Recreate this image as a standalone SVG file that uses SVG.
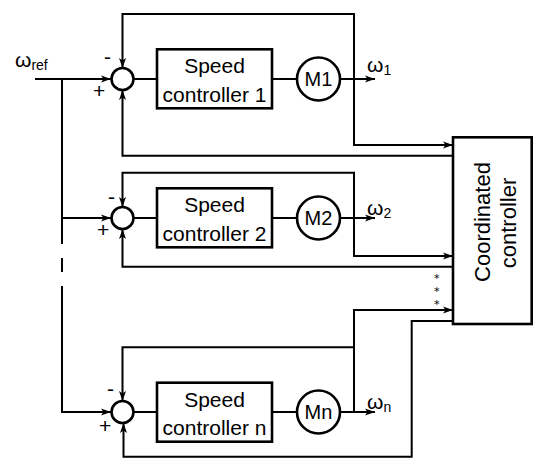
<svg xmlns="http://www.w3.org/2000/svg" width="550" height="472" viewBox="0 0 550 472">
<style>
text{font-family:"Liberation Sans",Arial,sans-serif;fill:#000}
.l{fill:none;stroke:#000;stroke-width:2}
.blk{fill:#fff;stroke:#000;stroke-width:2.6}
.t{font-size:21px;text-anchor:middle}
.m{font-size:20px;text-anchor:middle}
.s{font-size:21px}
.w{font-size:21px}
.sub{font-size:14px}
.c{font-size:22px;text-anchor:middle}
.st{font-family:"DejaVu Sans",sans-serif;font-size:11px;text-anchor:middle}
</style>
<defs>
<marker id="a" markerUnits="userSpaceOnUse" markerWidth="11" markerHeight="8" refX="10" refY="4" orient="auto">
<path d="M0,0.5 L10,4 L0,7.5 L2.5,4 z" fill="#000"/>
</marker>
</defs>
<g id="connectors">
<path class="l" d="M35,79 H111" marker-end="url(#a)"/>
<path class="l" d="M62,79 V244 M62,258 V272"/>
<path class="l" d="M62,286 V412 H111" marker-end="url(#a)"/>
<path class="l" d="M62,218 H111" marker-end="url(#a)"/>
<path class="l" d="M133.5,79 H157 M272,79 H297"/>
<path class="l" d="M340,79 H375" marker-end="url(#a)"/>
<path class="l" d="M354,79 V14 H122.5 V68" marker-end="url(#a)"/>
<path class="l" d="M354,79 V145 H453" marker-end="url(#a)"/>
<path class="l" d="M453,155.7 H122.5 V90" marker-end="url(#a)"/>
<path class="l" d="M133.5,218 H157 M272,218 H297"/>
<path class="l" d="M340,218 H375" marker-end="url(#a)"/>
<path class="l" d="M354,218 V172.7 H122.5 V207" marker-end="url(#a)"/>
<path class="l" d="M354,218 V256 H453" marker-end="url(#a)"/>
<path class="l" d="M453,266.7 H122.5 V229" marker-end="url(#a)"/>
<path class="l" d="M133.5,412 H157 M272,412 H297"/>
<path class="l" d="M340,412 H375" marker-end="url(#a)"/>
<path class="l" d="M354,412 V347.3 H122.5 V401" marker-end="url(#a)"/>
<path class="l" d="M354,347.3 V310 H453" marker-end="url(#a)"/>
<path class="l" d="M453,321 H411.7 V456.7 H123.5 V423" marker-end="url(#a)"/>
</g>
<g id="input">
<text class="w" x="15" y="67">ω<tspan class="sub" dy="3">ref</tspan></text>
</g>
<g id="sum1">
<circle class="blk" cx="122.5" cy="79" r="11"/>
<text class="s" x="104" y="64">-</text>
<text class="s" x="93" y="98">+</text>
</g>
<g id="ctrl1">
<rect class="blk" x="157" y="49.3" width="115" height="59"/>
<text class="t" x="214.5" y="73.3">Speed</text>
<text class="t" x="214.5" y="101.7">controller 1</text>
</g>
<g id="motor1">
<circle class="blk" cx="318.5" cy="79" r="21.5"/>
<text class="m" x="318.5" y="86">M1</text>
<text class="w" x="367" y="72">ω<tspan class="sub" dy="3">1</tspan></text>
</g>
<g id="sum2">
<circle class="blk" cx="122.5" cy="218" r="11"/>
<text class="s" x="108" y="204">-</text>
<text class="s" x="97" y="237">+</text>
</g>
<g id="ctrl2">
<rect class="blk" x="157" y="188.3" width="115" height="59"/>
<text class="t" x="214.5" y="212.3">Speed</text>
<text class="t" x="214.5" y="240.7">controller 2</text>
</g>
<g id="motor2">
<circle class="blk" cx="318.5" cy="218" r="21.5"/>
<text class="m" x="318.5" y="225">M2</text>
<text class="w" x="367" y="215">ω<tspan class="sub" dy="3">2</tspan></text>
</g>
<g id="sumn">
<circle class="blk" cx="122.5" cy="412" r="11"/>
<text class="s" x="107" y="396">-</text>
<text class="s" x="99" y="433">+</text>
</g>
<g id="ctrln">
<rect class="blk" x="157" y="382.7" width="115" height="59"/>
<text class="t" x="214.5" y="406.7">Speed</text>
<text class="t" x="214.5" y="435">controller n</text>
</g>
<g id="motorn">
<circle class="blk" cx="318.5" cy="412" r="21.5"/>
<text class="m" x="318.5" y="419">Mn</text>
<text class="w" x="367" y="409">ω<tspan class="sub" dy="3">n</tspan></text>
</g>
<g id="coordinated">
<rect class="blk" x="453" y="137.3" width="78.7" height="186.7"/>
<text class="c" transform="translate(490,222) rotate(-90)">Coordinated</text>
<text class="c" transform="translate(515.5,223) rotate(-90)">controller</text>
</g>
<g id="dots">
<text class="st" x="436.7" y="281.5">*</text>
<text class="st" x="436.7" y="294.5">*</text>
<text class="st" x="436.7" y="308">*</text>
</g>
</svg>
